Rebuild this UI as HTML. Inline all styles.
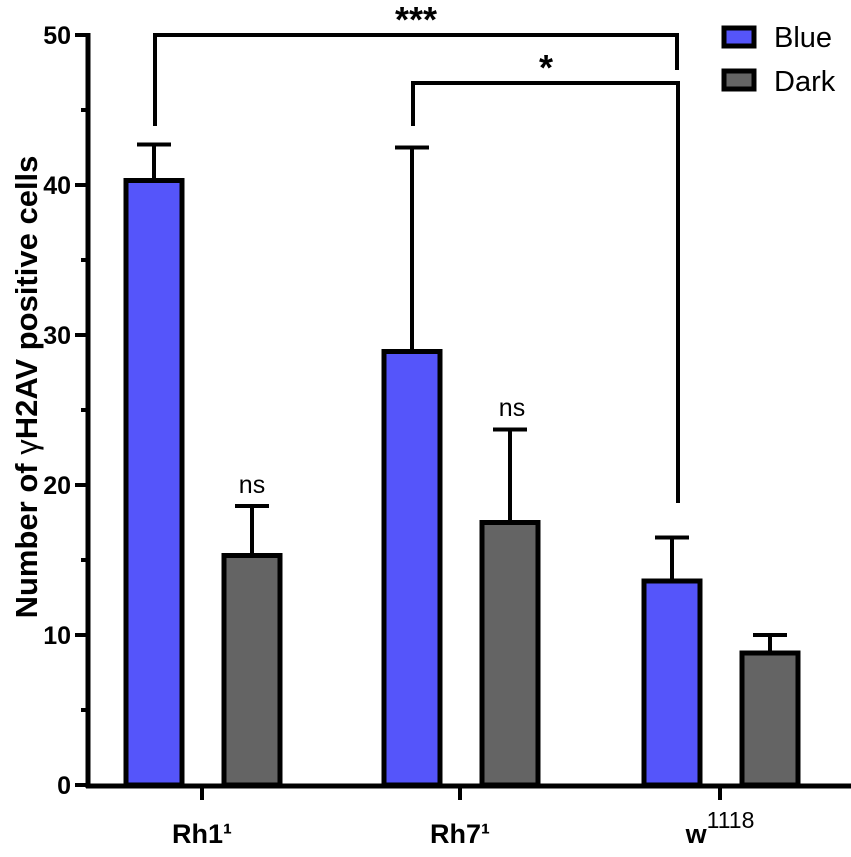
<!DOCTYPE html>
<html><head><meta charset="utf-8"><style>
body{margin:0;background:#fff}
svg text{font-family:"Liberation Sans",sans-serif}
</style></head><body>
<svg id="chart" width="851" height="852" viewBox="0 0 851 852" xmlns="http://www.w3.org/2000/svg"></svg>
<script>
const categories=["Rh1","Rh7","w"];
const blueValues=[40.3,28.9,13.6];
const blueErrors=[42.7,42.5,16.5];
const darkValues=[15.3,17.5,8.8];
const darkErrors=[18.6,23.7,10.0];
const yTicks=[0,10,20,30,40,50];
const svg=document.getElementById('chart');
const NS='http://www.w3.org/2000/svg';
const y=v=>785-v*15.0;
const groupCenters=[202,460,720];
function el(tag,attrs,parent){const e=document.createElementNS(NS,tag);for(const k in attrs)e.setAttribute(k,attrs[k]);(parent||svg).appendChild(e);return e;}
yTicks.forEach((t,i)=>{
  const tk=el('line',{x1:75,x2:90,y1:y(t),y2:y(t),stroke:'#000','stroke-width':4});
  
  
  const lb=el('text',{x:71,y:y(t)+9,'text-anchor':'end','font-size':25,'font-weight':'bold'});
  lb.textContent=t;
  
  
  if(i<yTicks.length-1){
    const m=el('line',{x1:81,x2:90,y1:y(t+5),y2:y(t+5),stroke:'#000','stroke-width':4});
    
    
  }
});
function bar(cx,v,e,fill,name){
  const eb=el('line',{x1:cx,x2:cx,y1:y(v),y2:y(e),stroke:'#000','stroke-width':4});
  
  
  const cap=el('line',{x1:cx-17,x2:cx+17,y1:y(e),y2:y(e),stroke:'#000','stroke-width':4});
  
  
  const r=el('rect',{x:cx-28,y:y(v),width:56,height:y(0)-y(v),fill:fill,stroke:'#000','stroke-width':5});
  
  
}
categories.forEach((c,i)=>{
  const gc=groupCenters[i];
  bar(gc-48,blueValues[i],blueErrors[i],'#5555fa','bar-blue-'+c.toLowerCase());
  bar(gc+50,darkValues[i],darkErrors[i],'#646464','bar-dark-'+c.toLowerCase());
  const tk=el('line',{x1:gc,x2:gc,y1:785,y2:800,stroke:'#000','stroke-width':4});
  
  
});
const ya=el('line',{x1:88,x2:88,y1:33,y2:788,stroke:'#000','stroke-width':5});


const xa=el('line',{x1:86,x2:851,y1:786,y2:786,stroke:'#000','stroke-width':5});


const b1=el('polyline',{points:'155,126 155,35 677,35 677,70',fill:'none',stroke:'#000','stroke-width':4});


const b2=el('polyline',{points:'413,126 413,83 678,83 678,503',fill:'none',stroke:'#000','stroke-width':4});


</script>
<svg style="position:absolute;left:0;top:0" width="851" height="852">
<text x="416" y="32" text-anchor="middle" font-size="36" font-weight="bold" font-family="Liberation Sans">***</text>
<text x="546" y="80" text-anchor="middle" font-size="36" font-weight="bold" font-family="Liberation Sans">*</text>
<text x="252" y="493" text-anchor="middle" font-size="25" font-family="Liberation Sans">ns</text>
<text x="512" y="416" text-anchor="middle" font-size="25" font-family="Liberation Sans">ns</text>
<rect x="724" y="28" width="30" height="18" fill="#5555fa" stroke="#000" stroke-width="5"/>
<text x="774" y="47" font-size="29" font-family="Liberation Sans">Blue</text>
<rect x="724" y="71" width="30" height="18" fill="#646464" stroke="#000" stroke-width="5"/>
<text x="774" y="91" font-size="29" font-family="Liberation Sans">Dark</text>
<text x="202" y="843" text-anchor="middle" font-size="27" font-weight="bold" font-family="Liberation Sans">Rh1¹</text>
<text x="460" y="843" text-anchor="middle" font-size="27" font-weight="bold" font-family="Liberation Sans">Rh7¹</text>
<text x="720" y="843" text-anchor="middle" font-size="27" font-weight="bold" font-family="Liberation Sans">w<tspan font-size="23" font-weight="normal" dy="-15">1118</tspan></text>
<text transform="translate(37,387) rotate(-90)" text-anchor="middle" font-size="31" font-weight="bold" font-family="Liberation Sans">Number of <tspan font-weight="normal">γ</tspan>H2AV positive cells</text>
</svg>
</body></html>
